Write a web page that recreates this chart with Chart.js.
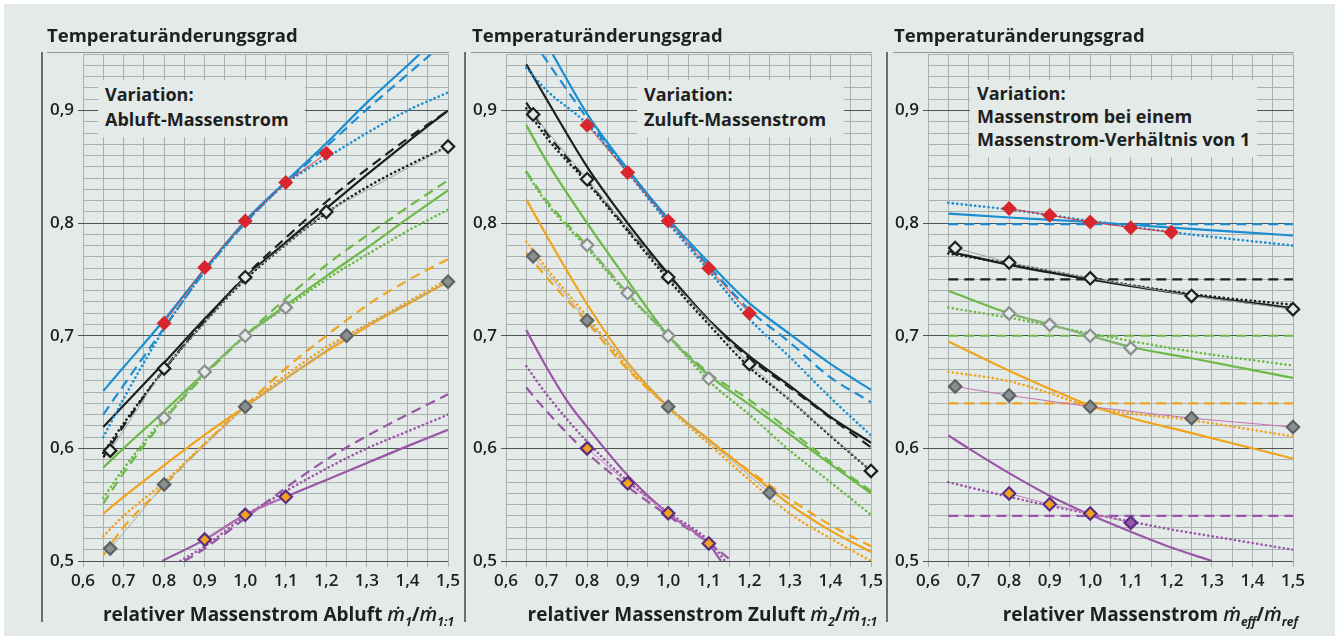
<!DOCTYPE html>
<html>
<head>
<meta charset="utf-8">
<script src="https://cdn.jsdelivr.net/npm/chart.js@4.4.1/dist/chart.umd.min.js"></script>
<style>
  body { margin: 0; background: #fff; font-family: "Open Sans", sans-serif; color: #1e1f1f; }
  #frame { position: absolute; left: 4px; top: 4px; width: 1331px; height: 632px; background: #e3eae8; }
  canvas { position: absolute; top: 40px; }
  .title { position: absolute; top: 22px; font-size: 18.5px; font-weight: 700; white-space: nowrap; }
  .xtitle { position: absolute; top: 600px; font-size: 19px; font-weight: 700; white-space: nowrap; text-align: right; }
  .xtitle i { font-weight: 600; font-size: 20px; }
  .xtitle sub { font-size: 12px; font-style: italic; vertical-align: -5px; }
  .box { position: absolute; background: #e3eae8; font-size: 18px; font-weight: 700; line-height: 25px; padding-left: 7px; box-sizing: border-box; white-space: nowrap; }
  .rule { position: absolute; background: #6a6d6d; }
  .top { position: absolute; height: 1px; background: #8f9696; }
</style>
</head>
<body>
<div id="frame"></div>

<div class="rule" style="left:41px;top:52px;width:2px;height:570px"></div>
<div class="rule" style="left:464px;top:52px;width:2px;height:570px"></div>
<div class="rule" style="left:886px;top:52px;width:2px;height:570px"></div>
<div class="top" style="left:47px;top:52px;width:402px"></div>
<div class="top" style="left:471px;top:52px;width:401px"></div>
<div class="top" style="left:893px;top:52px;width:401px"></div>

<canvas id="c1" width="430" height="561" style="left:38px"></canvas>
<canvas id="c2" width="430" height="561" style="left:461px"></canvas>
<canvas id="c3" width="430" height="561" style="left:883px"></canvas>

<div class="title" style="left:47px">Temperaturänderungsgrad</div>
<div class="title" style="left:472px">Temperaturänderungsgrad</div>
<div class="title" style="left:894px">Temperaturänderungsgrad</div>

<div class="box" style="left:98px;top:80px;width:207px;height:57px;padding-top:2px">Variation:<br>Abluft-Massenstrom</div>
<div class="box" style="left:637px;top:80px;width:207px;height:57px;padding-top:2px">Variation:<br>Zuluft-Massenstrom</div>
<div class="box" style="left:970px;top:80px;width:287px;height:77px;line-height:23px;padding-top:2px">Variation:<br>Massenstrom bei einem<br>Massenstrom-Verhältnis von 1</div>

<div class="xtitle" style="right:887px">relativer Massenstrom Abluft <i>ṁ</i><sub>1</sub>/<i>ṁ</i><sub>1:1</sub></div>
<div class="xtitle" style="right:464px">relativer Massenstrom Zuluft <i>ṁ</i><sub>2</sub>/<i>ṁ</i><sub>1:1</sub></div>
<div class="xtitle" style="right:43px">relativer Massenstrom <i>ṁ</i><sub>eff</sub>/<i>ṁ</i><sub>ref</sub></div>

<script>
// tick labels
var xTickLabels = ["0,6", "0,7", "0,8", "0,9", "1,0", "1,1", "1,2", "1,3", "1,4", "1,5"];
var yTickLabels = ["0,5", "0,6", "0,7", "0,8", "0,9"];

// panel 1: Abluft-Massenstrom  [x, y]
var abBlueSolid = [[0.65, 0.651], [0.7, 0.672], [0.8, 0.714], [0.9, 0.759], [1.0, 0.802], [1.1, 0.837], [1.2, 0.871], [1.3, 0.907], [1.4, 0.94], [1.43, 0.95]];
var abBlueDash = [[0.65, 0.63], [0.7, 0.656], [0.8, 0.707], [0.9, 0.757], [1.0, 0.8], [1.1, 0.836], [1.2, 0.868], [1.3, 0.901], [1.4, 0.932], [1.458, 0.95]];
var abBlueDot = [[0.65, 0.61], [0.7, 0.644], [0.8, 0.706], [0.9, 0.757], [1.0, 0.8], [1.1, 0.835], [1.2, 0.858], [1.3, 0.88], [1.4, 0.9], [1.5, 0.916]];
var abRed = [[0.8, 0.711], [0.9, 0.7605], [1.0, 0.802], [1.1, 0.836], [1.2, 0.862]];
var abBlackSolid = [[0.65, 0.619], [0.7, 0.638], [0.8, 0.676], [0.9, 0.715], [1.0, 0.752], [1.1, 0.783], [1.2, 0.813], [1.3, 0.843], [1.4, 0.872], [1.5, 0.9]];
var abBlackDash = [[0.65, 0.592], [0.7, 0.62], [0.8, 0.67], [0.9, 0.713], [1.0, 0.753], [1.1, 0.787], [1.2, 0.819], [1.3, 0.848], [1.4, 0.875], [1.5, 0.9]];
var abBlackDot = [[0.65, 0.596], [0.7, 0.622], [0.8, 0.67], [0.9, 0.712], [1.0, 0.75], [1.1, 0.781], [1.2, 0.809], [1.3, 0.832], [1.4, 0.851], [1.5, 0.868]];
var abBlackMark = [[0.667, 0.598], [0.8, 0.671], [1.0, 0.752], [1.2, 0.81], [1.5, 0.868]];
var abGreenSolid = [[0.65, 0.583], [0.7, 0.6], [0.8, 0.633], [0.9, 0.667], [1.0, 0.7], [1.1, 0.727], [1.2, 0.753], [1.3, 0.778], [1.4, 0.804], [1.5, 0.829]];
var abGreenDash = [[0.65, 0.551], [0.7, 0.578], [0.8, 0.625], [0.9, 0.665], [1.0, 0.7], [1.1, 0.733], [1.2, 0.763], [1.3, 0.789], [1.4, 0.814], [1.5, 0.838]];
var abGreenDot = [[0.65, 0.556], [0.7, 0.582], [0.8, 0.627], [0.9, 0.666], [1.0, 0.7], [1.1, 0.725], [1.2, 0.75], [1.3, 0.772], [1.4, 0.793], [1.5, 0.812]];
var abGreenMark = [[0.8, 0.627], [0.9, 0.668], [1.0, 0.7], [1.1, 0.725]];
var abOrangeSolid = [[0.65, 0.542], [0.7, 0.557], [0.8, 0.585], [0.9, 0.612], [1.0, 0.637], [1.1, 0.662], [1.2, 0.686], [1.3, 0.708], [1.4, 0.728], [1.5, 0.748]];
var abOrangeDash = [[0.65, 0.505], [0.7, 0.53], [0.8, 0.567], [0.9, 0.604], [1.0, 0.638], [1.1, 0.671], [1.2, 0.7], [1.3, 0.727], [1.4, 0.749], [1.5, 0.768]];
var abOrangeDot = [[0.65, 0.522], [0.7, 0.54], [0.8, 0.57], [0.9, 0.604], [1.0, 0.637], [1.1, 0.665], [1.2, 0.69], [1.3, 0.71], [1.4, 0.73], [1.5, 0.75]];
var abOrangeMark = [[0.667, 0.511], [0.8, 0.568], [1.0, 0.637], [1.25, 0.7], [1.5, 0.748]];
var abPurpleSolid = [[0.795, 0.5], [0.9, 0.519], [1.0, 0.541], [1.1, 0.557], [1.2, 0.572], [1.3, 0.587], [1.4, 0.602], [1.5, 0.6165]];
var abPurpleDash = [[0.85, 0.5], [0.9, 0.511], [1.0, 0.538], [1.1, 0.565], [1.2, 0.59], [1.3, 0.611], [1.4, 0.63], [1.5, 0.648]];
var abPurpleDot = [[0.84, 0.5], [0.9, 0.513], [1.0, 0.54], [1.1, 0.562], [1.2, 0.582], [1.3, 0.6], [1.4, 0.615], [1.5, 0.63]];
var abPurpleMark = [[0.9, 0.519], [1.0, 0.541], [1.1, 0.557]];

// panel 2: Zuluft-Massenstrom
var zuBlueSolid = [[0.715, 0.95], [0.8, 0.897], [0.9, 0.848], [1.0, 0.804], [1.1, 0.765], [1.2, 0.729], [1.3, 0.7015], [1.4, 0.675], [1.5, 0.652]];
var zuBlueDash = [[0.689, 0.95], [0.8, 0.893], [0.9, 0.846], [1.0, 0.802], [1.1, 0.762], [1.2, 0.723], [1.3, 0.694], [1.4, 0.663], [1.5, 0.641]];
var zuBlueDot = [[0.65, 0.938], [0.7, 0.918], [0.8, 0.888], [0.9, 0.845], [1.0, 0.8], [1.1, 0.758], [1.2, 0.715], [1.3, 0.681], [1.4, 0.645], [1.5, 0.6115]];
var zuRed = [[0.8, 0.887], [0.9, 0.845], [1.0, 0.802], [1.1, 0.76], [1.2, 0.72]];
var zuBlackSolid = [[0.65, 0.941], [0.7, 0.91], [0.8, 0.85], [0.9, 0.8], [1.0, 0.755], [1.1, 0.714], [1.2, 0.682], [1.3, 0.6555], [1.4, 0.628], [1.5, 0.605]];
var zuBlackDash = [[0.65, 0.907], [0.7, 0.88], [0.8, 0.838], [0.9, 0.795], [1.0, 0.753], [1.1, 0.714], [1.2, 0.68], [1.3, 0.654], [1.4, 0.627], [1.5, 0.601]];
var zuBlackDot = [[0.65, 0.902], [0.7, 0.876], [0.8, 0.836], [0.9, 0.793], [1.0, 0.75], [1.1, 0.71], [1.2, 0.672], [1.3, 0.643], [1.4, 0.611], [1.5, 0.58]];
var zuBlackMark = [[0.667, 0.8965], [0.8, 0.839], [1.0, 0.752], [1.2, 0.675], [1.5, 0.58]];
var zuGreenSolid = [[0.65, 0.887], [0.7, 0.855], [0.8, 0.8], [0.9, 0.749], [1.0, 0.7], [1.1, 0.665], [1.2, 0.639], [1.3, 0.6125], [1.4, 0.586], [1.5, 0.56]];
var zuGreenDash = [[0.65, 0.846], [0.7, 0.82], [0.8, 0.78], [0.9, 0.738], [1.0, 0.7], [1.1, 0.667], [1.2, 0.643], [1.3, 0.616], [1.4, 0.588], [1.5, 0.562]];
var zuGreenDot = [[0.65, 0.845], [0.7, 0.818], [0.8, 0.778], [0.9, 0.736], [1.0, 0.7], [1.1, 0.66], [1.2, 0.63], [1.3, 0.598], [1.4, 0.57], [1.5, 0.541]];
var zuGreenMark = [[0.8, 0.7805], [0.9, 0.738], [1.0, 0.7], [1.1, 0.662]];
var zuOrangeSolid = [[0.65, 0.821], [0.7, 0.789], [0.8, 0.728], [0.9, 0.676], [1.0, 0.637], [1.1, 0.608], [1.2, 0.579], [1.3, 0.55], [1.4, 0.527], [1.5, 0.508]];
var zuOrangeDash = [[0.65, 0.774], [0.7, 0.752], [0.8, 0.712], [0.9, 0.67], [1.0, 0.637], [1.1, 0.607], [1.2, 0.58], [1.3, 0.555], [1.4, 0.532], [1.5, 0.513]];
var zuOrangeDot = [[0.65, 0.7835], [0.7, 0.76], [0.8, 0.717], [0.9, 0.672], [1.0, 0.636], [1.1, 0.604], [1.2, 0.572], [1.3, 0.542], [1.4, 0.52], [1.5, 0.5]];
var zuOrangeMark = [[0.667, 0.7705], [0.8, 0.7136], [1.0, 0.637], [1.25, 0.5605]];
var zuPurpleSolid = [[0.65, 0.705], [0.7, 0.672], [0.75, 0.6425], [0.8, 0.619], [0.9, 0.576], [1.0, 0.542], [1.1, 0.515], [1.13, 0.5]];
var zuPurpleDash = [[0.65, 0.654], [0.7, 0.633], [0.8, 0.596], [0.9, 0.566], [1.0, 0.54], [1.1, 0.516], [1.15, 0.502]];
var zuPurpleDot = [[0.65, 0.673], [0.7, 0.648], [0.8, 0.606], [0.9, 0.571], [1.0, 0.543], [1.1, 0.518], [1.14, 0.5]];
var zuPurpleMark = [[0.8, 0.6], [0.9, 0.569], [1.0, 0.5425], [1.1, 0.5156]];

// panel 3: Massenstrom bei Verhaeltnis 1
var efBlueSolid = [[0.65, 0.8085], [0.8, 0.805], [1.0, 0.801], [1.2, 0.796], [1.5, 0.789]];
var efBlueDash = [[0.65, 0.799], [1.5, 0.799]];
var efBlueDot = [[0.65, 0.818], [0.8, 0.812], [1.0, 0.802], [1.2, 0.792], [1.5, 0.78]];
var efRed = [[0.8, 0.813], [0.9, 0.807], [1.0, 0.801], [1.1, 0.796], [1.2, 0.792]];
var efBlackSolid = [[0.65, 0.775], [0.8, 0.763], [1.0, 0.75], [1.25, 0.736], [1.5, 0.7245]];
var efBlackDash = [[0.65, 0.75], [1.5, 0.75]];
var efBlackDot = [[0.65, 0.773], [0.8, 0.764], [1.0, 0.751], [1.25, 0.737], [1.5, 0.7275]];
var efBlackMark = [[0.667, 0.778], [0.8, 0.765], [1.0, 0.751], [1.25, 0.7354], [1.5, 0.7236]];
var efGreenSolid = [[0.65, 0.74], [0.8, 0.72], [0.9, 0.71], [1.0, 0.7], [1.1, 0.69], [1.25, 0.68], [1.5, 0.6625]];
var efGreenDash = [[0.65, 0.7], [1.5, 0.7]];
var efGreenDot = [[0.65, 0.725], [0.8, 0.716], [1.0, 0.702], [1.25, 0.686], [1.5, 0.6735]];
var efGreenMark = [[0.8, 0.7198], [0.9, 0.7097], [1.0, 0.7], [1.1, 0.689]];
var efOrangeSolid = [[0.65, 0.695], [0.8, 0.669], [0.9, 0.653], [1.0, 0.638], [1.1, 0.627], [1.25, 0.6136], [1.5, 0.591]];
var efOrangeDash = [[0.65, 0.64], [1.5, 0.64]];
var efOrangeDot = [[0.65, 0.668], [0.8, 0.6596], [0.9, 0.649], [1.0, 0.637], [1.25, 0.625], [1.5, 0.6106]];
var efOrangeMark = [[0.667, 0.655], [0.8, 0.647], [1.0, 0.637], [1.25, 0.6268], [1.5, 0.6189]];
var efPurpleSolid = [[0.65, 0.6115], [0.7, 0.6], [0.8, 0.578], [0.9, 0.558], [1.0, 0.541], [1.1, 0.526], [1.2, 0.512], [1.3, 0.5]];
var efPurpleDash = [[0.65, 0.54], [1.5, 0.54]];
var efPurpleDot = [[0.65, 0.57], [0.8, 0.557], [0.9, 0.549], [1.0, 0.542], [1.1, 0.535], [1.2, 0.528], [1.3, 0.522], [1.4, 0.516], [1.5, 0.51]];
var efPurpleMark = [[0.8, 0.56], [0.9, 0.5504], [1.0, 0.5422], [1.1, 0.534]];

var BG = "#e3eae8";
var GRID = "#a9b1b0";
var MAJOR = "#4f5353";
var BLUE = "#1b8dd0", BLACK = "#1d1e1e", GREEN = "#6cb947", ORANGE = "#f1a31c", PURPLE = "#9a56a6";

var redMark = { fill: "#d8262c", edge: "#d8262c", w: 0, r: 7.5, link: "#e2383c" };
var blackMark = { fill: BG, edge: BLACK, w: 2.2, r: 6.2, link: "#9da1a1" };
var greenMark = { fill: BG, edge: "#8b8f8f", w: 2.2, r: 6.2, link: "#a5a9a9" };
var orangeMark = { fill: "#8c8f8f", edge: "#5e6262", w: 2.2, r: 6.2, link: "#a5a9a9" };
var orangeMarkPink = { fill: "#8c8f8f", edge: "#5e6262", w: 2.2, r: 6.2, link: "#c76fb4" };
var purpleMark = { fill: "#f1a31c", edge: "#5b2e85", w: 2.2, r: 6.2, link: "#c77cbd" };
var purpleMarkLast = { fill: ["#f1a31c", "#f1a31c", "#f1a31c", "#9a56a6"], edge: "#5b2e85", w: 2.2, r: 6.2, link: "#c77cbd" };

function pts(a) {
  return a.map(function (p) { return { x: p[0], y: p[1] }; });
}

function curve(a, color, kind) {
  var d = {
    data: pts(a),
    borderColor: color,
    borderWidth: 2.2,
    pointRadius: 0,
    fill: false,
    cubicInterpolationMode: "monotone",
    borderCapStyle: "butt",
  };
  if (kind === "dash") {
    d.borderDash = [10, 6];
  }
  if (kind === "dot") {
    d.borderDash = [0.1, 4.4];
    d.borderCapStyle = "round";
    d.borderWidth = 2.6;
  }
  return d;
}

function marks(a, m) {
  return {
    data: pts(a),
    borderColor: m.link,
    borderWidth: 1,
    tension: 0,
    pointStyle: "rectRot",
    pointRadius: m.r,
    pointBackgroundColor: m.fill,
    pointBorderColor: m.edge,
    pointBorderWidth: m.w,
    clip: false,
  };
}

var xGrid = [];
for (var i = 0; i <= 18; i++) xGrid.push(Math.round((0.6 + i * 0.05) * 1000) / 1000);
var yGrid = [];
for (var j = 0; j <= 45; j++) yGrid.push(Math.round((0.5 + j * 0.01) * 1000) / 1000);

function isTenth(v) {
  return Math.abs(v * 10 - Math.round(v * 10)) < 1e-6;
}

var tickFont = { family: "Open Sans", size: 17, weight: "600" };

function makePanel(id, marksSets, lines) {
  var datasets = marksSets.concat(lines);
  new Chart(document.getElementById(id), {
    type: "line",
    data: { datasets: datasets },
    options: {
      responsive: false,
      animation: false,
      devicePixelRatio: 1,
      layout: { padding: { left: 0, top: 12, right: 20, bottom: 0 } },
      plugins: { legend: { display: false }, tooltip: { enabled: false } },
      scales: {
        x: {
          type: "linear",
          min: 0.6,
          max: 1.5,
          afterBuildTicks: function (s) {
            s.ticks = xGrid.map(function (v) { return { value: v }; });
          },
          afterFit: function (s) { s.height = 40; },
          ticks: {
            autoSkip: false,
            maxRotation: 0,
            padding: 4,
            font: tickFont,
            color: "#1e1f1f",
            callback: function (v) {
              return isTenth(v) ? xTickLabels[Math.round((v - 0.6) * 10)] : "";
            },
          },
          grid: { color: GRID, lineWidth: 1, tickLength: 6, tickColor: GRID },
          border: { display: false },
        },
        y: {
          type: "linear",
          min: 0.5,
          max: 0.95,
          afterBuildTicks: function (s) {
            s.ticks = yGrid.map(function (v) { return { value: v }; });
          },
          afterFit: function (s) { s.width = 45; },
          ticks: {
            autoSkip: false,
            padding: 4,
            font: tickFont,
            color: "#1e1f1f",
            callback: function (v) {
              return isTenth(v) && v < 0.95 ? yTickLabels[Math.round((v - 0.5) * 10)] : "";
            },
          },
          grid: {
            color: function (c) { return c.tick && isTenth(c.tick.value) && c.tick.value < 0.95 ? MAJOR : GRID; },
            lineWidth: 1,
            tickLength: 5,
            tickColor: function (c) { return c.tick && isTenth(c.tick.value) && c.tick.value < 0.95 ? MAJOR : "rgba(0,0,0,0)"; },
          },
          border: { display: false },
        },
      },
    },
  });
}

makePanel("c1",
  [marks(abRed, redMark), marks(abBlackMark, blackMark), marks(abGreenMark, greenMark), marks(abOrangeMark, orangeMark), marks(abPurpleMark, purpleMark)],
  [
    curve(abBlueSolid, BLUE), curve(abBlueDash, BLUE, "dash"), curve(abBlueDot, BLUE, "dot"),
    curve(abBlackSolid, BLACK), curve(abBlackDash, BLACK, "dash"), curve(abBlackDot, BLACK, "dot"),
    curve(abGreenSolid, GREEN), curve(abGreenDash, GREEN, "dash"), curve(abGreenDot, GREEN, "dot"),
    curve(abOrangeSolid, ORANGE), curve(abOrangeDash, ORANGE, "dash"), curve(abOrangeDot, ORANGE, "dot"),
    curve(abPurpleSolid, PURPLE), curve(abPurpleDash, PURPLE, "dash"), curve(abPurpleDot, PURPLE, "dot"),
  ]);

makePanel("c2",
  [marks(zuRed, redMark), marks(zuBlackMark, blackMark), marks(zuGreenMark, greenMark), marks(zuOrangeMark, orangeMark), marks(zuPurpleMark, purpleMark)],
  [
    curve(zuBlueSolid, BLUE), curve(zuBlueDash, BLUE, "dash"), curve(zuBlueDot, BLUE, "dot"),
    curve(zuBlackSolid, BLACK), curve(zuBlackDash, BLACK, "dash"), curve(zuBlackDot, BLACK, "dot"),
    curve(zuGreenSolid, GREEN), curve(zuGreenDash, GREEN, "dash"), curve(zuGreenDot, GREEN, "dot"),
    curve(zuOrangeSolid, ORANGE), curve(zuOrangeDash, ORANGE, "dash"), curve(zuOrangeDot, ORANGE, "dot"),
    curve(zuPurpleSolid, PURPLE), curve(zuPurpleDash, PURPLE, "dash"), curve(zuPurpleDot, PURPLE, "dot"),
  ]);

makePanel("c3",
  [marks(efRed, redMark), marks(efBlackMark, blackMark), marks(efGreenMark, greenMark), marks(efOrangeMark, orangeMarkPink), marks(efPurpleMark, purpleMarkLast)],
  [
    curve(efBlueSolid, BLUE), curve(efBlueDash, BLUE, "dash"), curve(efBlueDot, BLUE, "dot"),
    curve(efBlackSolid, BLACK), curve(efBlackDash, BLACK, "dash"), curve(efBlackDot, BLACK, "dot"),
    curve(efGreenSolid, GREEN), curve(efGreenDash, GREEN, "dash"), curve(efGreenDot, GREEN, "dot"),
    curve(efOrangeSolid, ORANGE), curve(efOrangeDash, ORANGE, "dash"), curve(efOrangeDot, ORANGE, "dot"),
    curve(efPurpleSolid, PURPLE), curve(efPurpleDash, PURPLE, "dash"), curve(efPurpleDot, PURPLE, "dot"),
  ]);
</script>
</body>
</html>
